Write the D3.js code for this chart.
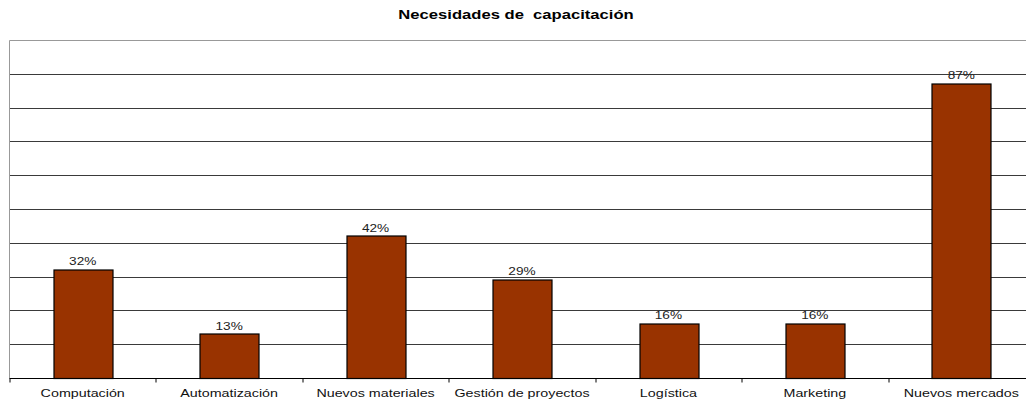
<!DOCTYPE html>
<html>
<head>
<meta charset="utf-8">
<script src="https://cdn.jsdelivr.net/npm/d3@7"></script>
<style>
  body { margin: 0; background: #fff; }
  svg { display: block; font-family: "Liberation Sans", Arial, sans-serif; }
</style>
</head>
<body>
<div id="chart"></div>
<script>
const categories = ['Computación', 'Automatización', 'Nuevos materiales', 'Gestión de proyectos', 'Logística', 'Marketing', 'Nuevos mercados'];
const values     = [32, 13, 42, 29, 16, 16, 87];
const gridTicks  = [10, 20, 30, 40, 50, 60, 70, 80, 90, 100];
const title      = 'Necesidades de  capacitación';

const W = 1026, H = 400;
const m = { top: 40.5, right: -8.5, bottom: 21.5, left: 9.5 };
const width  = W - m.left - m.right;
const height = H - m.top - m.bottom;
const stretch = 1.3; // text in the original is drawn horizontally widened

const svg = d3.select('#chart').append('svg')
  .attr('width', W).attr('height', H);

svg.append('text')
  .attr('transform', `translate(516,19) scale(1.33,1)`)
  .attr('text-anchor', 'middle')
  .attr('font-size', 12.5).attr('font-weight', 'bold')
  .style('white-space', 'pre')
  .attr('fill', '#000')
  .text(title);

const g = svg.append('g').attr('transform', `translate(${m.left},${m.top})`);

const x = d3.scaleBand().domain(categories).range([0, width]).padding(0);
const y = d3.scaleLinear().domain([0, 100]).range([height, 0]);

// gridlines
g.selectAll('.grid')
  .data(gridTicks)
  .join('line')
    .attr('class', 'grid')
    .attr('x1', 0).attr('x2', width)
    .attr('y1', d => Math.round(y(d)))
    .attr('y2', d => Math.round(y(d)))
    .attr('stroke', d => d === 100 ? '#999' : '#3a3a3a')
    .attr('stroke-width', 1);

// left border
g.append('line')
  .attr('x1', 0).attr('x2', 0)
  .attr('y1', 0).attr('y2', height)
  .attr('stroke', '#999');

// bars
const barW = x.bandwidth() * 0.4;
g.selectAll('.bar')
  .data(values)
  .join('rect')
    .attr('class', 'bar')
    .attr('x', (d, i) => Math.round(x(categories[i]) + (x.bandwidth() - barW) / 2) + 0.5)
    .attr('y', d => Math.round(y(d)) - 0.5)
    .attr('width', Math.round(barW))
    .attr('height', d => height - Math.round(y(d)) + 0.5)
    .attr('fill', '#993300')
    .attr('stroke', '#000')
    .attr('stroke-width', 1.2);

// value labels
g.selectAll('.val')
  .data(values)
  .join('text')
    .attr('class', 'val')
    .attr('transform', (d, i) => `translate(${x(categories[i]) + x.bandwidth() / 2},${y(d) - 5}) scale(${stretch},1)`)
    .attr('text-anchor', 'middle')
    .attr('font-size', 10.5)
    .attr('fill', '#222')
    .text(d => d + '%');

// x axis
const xAxis = g.append('g')
  .attr('transform', `translate(0,${height})`);
xAxis.append('line')
  .attr('x1', 0).attr('x2', width)
  .attr('stroke', '#000');
xAxis.selectAll('.tick')
  .data(categories)
  .join('line')
    .attr('class', 'tick')
    .attr('x1', d => Math.round(x(d)) + 0.5)
    .attr('x2', d => Math.round(x(d)) + 0.5)
    .attr('y1', 0).attr('y2', 4)
    .attr('stroke', '#000');
xAxis.selectAll('.lab')
  .data(categories)
  .join('text')
    .attr('class', 'lab')
    .attr('transform', d => `translate(${x(d) + x.bandwidth() / 2},18) scale(${stretch},1)`)
    .attr('text-anchor', 'middle')
    .attr('font-size', 11)
    .attr('fill', '#111')
    .text(d => d);
</script>
</body>
</html>
